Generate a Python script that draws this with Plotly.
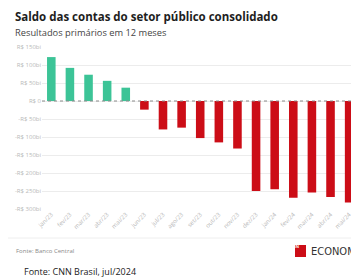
import plotly.graph_objects as go

months = ["jan/23", "fev/23", "mar/23", "abr/23", "mai/23", "jun/23", "jul/23", "ago/23",
          "set/23", "out/23", "nov/23", "dez/23", "jan/24", "fev/24", "mar/24", "abr/24", "mai/24"]
values = [122, 92, 73, 56, 37, -24, -79, -74, -103, -115, -132, -250, -245, -269, -254, -267, -282]
tick_vals = [150, 100, 50, 0, -50, -100, -150, -200, -250, -300]
tick_text = ["R$ 150bi", "R$ 100bi", "R$ 50bi", "R$ 0", "-R$ 50bi", "-R$ 100bi",
             "-R$ 150bi", "-R$ 200bi", "-R$ 250bi", "-R$ 300bi"]

GREEN = "#3cc497"
RED = "#cc0d17"
colors = [GREEN if v >= 0 else RED for v in values]

W, H = 351, 278
L, T, R = 42, 47, 0
B = H - 209
PW, PH = W - L - R, H - T - B


def px(x):  # viewport pixel -> paper x
    return (x - L) / PW


def py(y):  # viewport pixel -> paper y
    return (H - B - y) / PH


fig = go.Figure(go.Bar(x=months, y=values, marker_color=colors, marker_line_width=0, width=0.46))

fig.update_layout(
    width=W, height=H,
    margin=dict(l=L, r=R, t=T, b=B, autoexpand=False),
    paper_bgcolor="white", plot_bgcolor="white",
    showlegend=False,
    font=dict(family="Open Sans, sans-serif"),
    xaxis=dict(range=[-0.5, 16.1], tickangle=-45, tickfont=dict(size=6, color="#b9b9b9"),
               showgrid=False, showline=False, ticks="", automargin=False),
    yaxis=dict(range=[-300, 150], tickvals=tick_vals, ticktext=tick_text,
               tickfont=dict(size=6, color="#b9b9b9"), gridcolor="#ececec", gridwidth=1,
               zeroline=False, ticks="", showline=False, automargin=False),
)

# zero line
fig.add_shape(type="line", xref="paper", yref="y", x0=0, x1=1, y0=0, y1=0,
              line=dict(color="#8a8a8a", width=1, dash="dot"))

ann = [
    dict(text="<b>Saldo das contas do setor público consolidado</b>", x=px(13), y=py(16),
         font=dict(size=11.5, color="#1e1e1e")),
    dict(text="Resultados primários em 12 meses", x=px(13), y=py(32),
         font=dict(size=9.3, color="#444")),
    dict(text="Fonte: Banco Central", x=px(14), y=py(251),
         font=dict(size=6, color="#888")),
    dict(text="ECONOMIA", x=px(309), y=py(251),
         font=dict(size=11, color="#333", family="DejaVu Sans Condensed, Liberation Sans Narrow, sans-serif")),
    dict(text="Fonte: CNN Brasil, jul/2024", x=px(22), y=py(271),
         font=dict(size=9, color="#222")),
]
for a in ann:
    fig.add_annotation(xref="paper", yref="paper", xanchor="left", yanchor="middle",
                       showarrow=False, **a)

# separator line above source
fig.add_shape(type="line", xref="paper", yref="paper", x0=px(8), x1=px(351), y0=py(238), y1=py(238),
              line=dict(color="#eeeeee", width=1))
# CNN logo box
fig.add_shape(type="rect", xref="paper", yref="paper", x0=px(295), x1=px(306), y0=py(257), y1=py(245),
              fillcolor="#cc0d17", line_width=0)
fig.add_annotation(xref="paper", yref="paper", x=px(300.5), y=py(250.5), text="<b>CNN</b>",
                   showarrow=False, font=dict(size=4, color="white"))

fig.write_html("out.html", config={"displayModeBar": False},
               post_script="document.body.style.margin='0';document.body.style.overflow='hidden';")
